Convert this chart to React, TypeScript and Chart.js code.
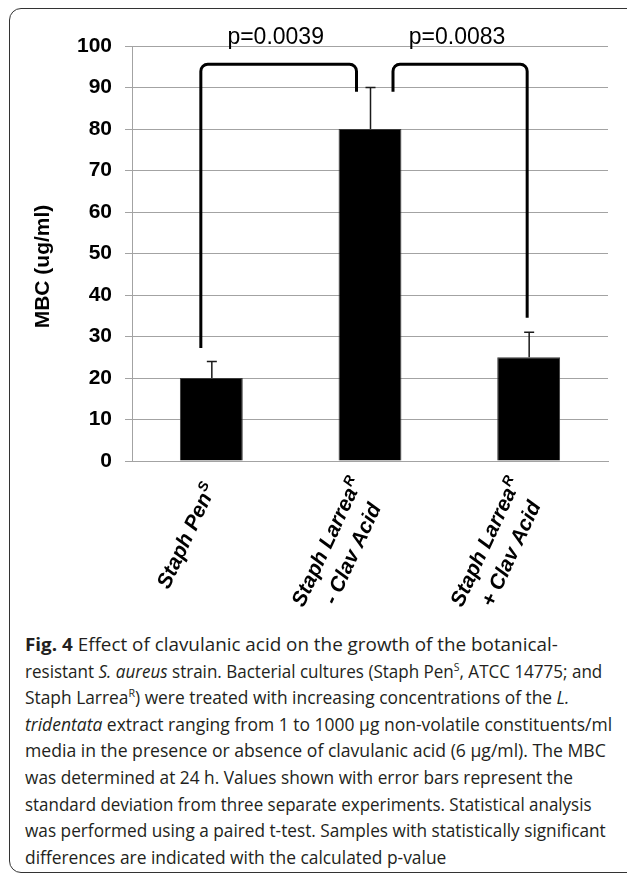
import React, { useEffect, useLayoutEffect, useRef } from "react";
import { Chart, registerables } from "chart.js";

Chart.register(...registerables);

// ---- data ----
const categories = ["Staph Pen^S", "Staph Larrea^R|- Clav Acid", "Staph Larrea^R|+ Clav Acid"];
const mbcValues = [20, 80, 25];
const sdValues = [4, 10, 6];
const yTickMin = 0;
const yTickMax = 100;
const yTickStep = 10;
const yAxisTitle = "MBC (ug/ml)";
const pLabels = ["p=0.0039", "p=0.0083"];
const bracketPairs = [
  [0, 1],
  [1, 2],
];
const bracketTopValues = [95.6, 95.6];
const bracketLegFromValues = [27.2, 89];
const bracketLegToValues = [89, 34.5];

// ---- style ----
const FONT = '"Liberation Sans", Arial, Helvetica, sans-serif';
const GRID = "#a3a3a3";
const CANVAS_W = 627;
const CANVAS_H = 620;
const bracketPxOffsets = [
  [-10.5, -13.5],
  [23, -1.5],
];
const CAPTION_LEFT = 25;
const captionLineRightEdges = [558, 602, 569, 612, 606, 573, 592, 606, 446];

function parseLine(s: string) {
  const idx = s.indexOf("^");
  if (idx < 0) return { main: s, sup: "" };
  return { main: s.slice(0, idx), sup: s.slice(idx + 1) };
}

const overlayPlugin = {
  id: "overlay",
  afterDatasetsDraw(chart: any) {
    const { ctx, chartArea } = chart;
    const x = chart.scales.x;
    const y = chart.scales.y;
    ctx.save();

    // error bars (plus direction)
    ctx.strokeStyle = "#1a1a1a";
    ctx.lineWidth = 1.5;
    mbcValues.forEach((v, i) => {
      const cx = x.getPixelForValue(i) + 0.5;
      const y0 = y.getPixelForValue(v);
      const y1 = y.getPixelForValue(v + sdValues[i]);
      ctx.beginPath();
      ctx.moveTo(cx, y0);
      ctx.lineTo(cx, y1);
      ctx.moveTo(cx - 5, y1);
      ctx.lineTo(cx + 5, y1);
      ctx.stroke();
    });

    // significance brackets
    ctx.strokeStyle = "#000";
    ctx.lineWidth = 3;
    ctx.lineCap = "butt";
    ctx.lineJoin = "round";
    bracketPairs.forEach((pair, i) => {
      const xl = x.getPixelForValue(pair[0]) + bracketPxOffsets[i][0];
      const xr = x.getPixelForValue(pair[1]) + bracketPxOffsets[i][1];
      const yt = y.getPixelForValue(bracketTopValues[i]);
      const yl = y.getPixelForValue(bracketLegFromValues[i]);
      const yr = y.getPixelForValue(bracketLegToValues[i]);
      const r = 7;
      ctx.beginPath();
      ctx.moveTo(xl, yl);
      ctx.lineTo(xl, yt + r);
      ctx.arcTo(xl, yt, xl + r, yt, r);
      ctx.lineTo(xr - r, yt);
      ctx.arcTo(xr, yt, xr, yt + r, r);
      ctx.lineTo(xr, yr);
      ctx.stroke();

      ctx.fillStyle = "#000";
      ctx.font = `23px ${FONT}`;
      ctx.textAlign = "center";
      ctx.textBaseline = "alphabetic";
      ctx.fillText(pLabels[i], (xl + xr) / 2 - 3, y.getPixelForValue(100.6));
    });

    // rotated category labels
    const angle = (-65 * Math.PI) / 180;
    const mainFont = `italic bold 21px ${FONT}`;
    const supFont = `italic bold 14px ${FONT}`;
    const lh = 28;
    ctx.fillStyle = "#000";
    categories.forEach((cat, i) => {
      const lines = cat.split("|").map(parseLine);
      const widths = lines.map((l) => {
        ctx.font = mainFont;
        const w1 = ctx.measureText(l.main).width;
        ctx.font = supFont;
        const w2 = l.sup ? ctx.measureText(l.sup).width + 1 : 0;
        return { w1, w2, w: w1 + w2 };
      });
      const maxW = Math.max(...widths.map((w) => w.w));
      const cx = x.getPixelForValue(i);
      const cy = chartArea.bottom + 24;
      ctx.save();
      ctx.translate(cx, cy);
      ctx.rotate(angle);
      ctx.textAlign = "left";
      ctx.textBaseline = "middle";
      lines.forEach((l, j) => {
        const oy = (j - (lines.length - 1) / 2) * lh;
        const sx = -maxW / 2 - widths[j].w / 2;
        ctx.font = mainFont;
        ctx.fillText(l.main, sx, oy);
        if (l.sup) {
          ctx.font = supFont;
          ctx.fillText(l.sup, sx + widths[j].w1 + 1, oy - 6);
        }
      });
      ctx.restore();
    });

    // y axis title
    ctx.save();
    ctx.translate(43, (chartArea.top + chartArea.bottom) / 2 + 13);
    ctx.rotate(-Math.PI / 2);
    ctx.font = `bold 21px ${FONT}`;
    ctx.textAlign = "center";
    ctx.textBaseline = "middle";
    ctx.fillStyle = "#000";
    ctx.fillText(yAxisTitle, 0, 0);
    ctx.restore();

    ctx.restore();
  },
};

function ChartCanvas() {
  const ref = useRef<HTMLCanvasElement | null>(null);
  useEffect(() => {
    if (!ref.current) return;
    const chart = new Chart(ref.current, {
      type: "bar",
      data: {
        labels: categories.map((c) => c.replace(/\^/g, "").split("|").join(" ")),
        datasets: [
          {
            data: mbcValues,
            backgroundColor: "#000",
            borderColor: "#3a3a3a",
            borderWidth: 1,
            barPercentage: 63 / 159,
            categoryPercentage: 1,
          },
        ],
      },
      options: {
        responsive: false,
        maintainAspectRatio: false,
        animation: false,
        layout: { padding: { left: 0, top: 46, right: 19, bottom: 0 } },
        plugins: {
          legend: { display: false },
          tooltip: { enabled: false },
          title: { display: false },
        },
        scales: {
          x: {
            ticks: { display: false },
            grid: { display: false },
            border: { display: true, color: GRID, width: 1 },
            afterFit: (s: any) => {
              s.height = CANVAS_H - 461;
            },
          },
          y: {
            min: yTickMin,
            max: yTickMax,
            ticks: {
              stepSize: yTickStep,
              color: "#000",
              padding: 13,
              font: { family: FONT, size: 21, weight: "bold" },
            },
            grid: { color: GRID, lineWidth: 1, tickLength: 7, drawTicks: true },
            border: { display: true, color: GRID, width: 1 },
            afterFit: (s: any) => {
              s.width = 132;
            },
          },
        },
      },
      plugins: [overlayPlugin],
    } as any);
    return () => chart.destroy();
  }, []);
  return (
    <canvas
      ref={ref}
      width={CANVAS_W}
      height={CANVAS_H}
      style={{ position: "absolute", left: 0, top: 0, width: CANVAS_W, height: CANVAS_H }}
    />
  );
}

const captionStyle: React.CSSProperties = {
  position: "absolute",
  left: CAPTION_LEFT,
  top: 631,
  fontFamily: '"Open Sans", "Noto Sans", sans-serif',
  fontSize: 18,
  lineHeight: "26.6px",
  color: "#231f20",
  whiteSpace: "nowrap",
};

const supStyle: React.CSSProperties = { fontSize: 11, lineHeight: 0 };

function Caption() {
  const refs = useRef<(HTMLSpanElement | null)[]>([]);
  useLayoutEffect(() => {
    refs.current.forEach((el, i) => {
      if (!el) return;
      const w = el.offsetWidth;
      const target = captionLineRightEdges[i] - CAPTION_LEFT;
      if (w > 0) {
        el.style.transformOrigin = "0 50%";
        el.style.transform = `scaleX(${target / w})`;
      }
    });
  }, []);
  const lines: React.ReactNode[] = [
    <>
      <b>Fig. 4</b> Effect of clavulanic acid on the growth of the botanical-
    </>,
    <>
      resistant <i>S. aureus</i> strain. Bacterial cultures (Staph Pen<sup style={supStyle}>S</sup>, ATCC 14775; and
    </>,
    <>
      Staph Larrea<sup style={supStyle}>R</sup>) were treated with increasing concentrations of the <i>L.</i>
    </>,
    <>
      <i>tridentata</i> extract ranging from 1 to 1000 µg non-volatile constituents/ml
    </>,
    <>media in the presence or absence of clavulanic acid (6 µg/ml). The MBC</>,
    <>was determined at 24 h. Values shown with error bars represent the</>,
    <>standard deviation from three separate experiments. Statistical analysis</>,
    <>was performed using a paired t-test. Samples with statistically significant</>,
    <>differences are indicated with the calculated p-value</>,
  ];
  return (
    <div style={captionStyle}>
      {lines.map((l, i) => (
        <div key={i}>
          <span
            ref={(el) => {
              refs.current[i] = el;
            }}
            style={{ display: "inline-block" }}
          >
            {l}
          </span>
        </div>
      ))}
    </div>
  );
}

export default function App() {
  return (
    <div style={{ position: "absolute", left: 0, top: 0, width: 627, height: 873, overflow: "hidden", background: "#fff" }}>
      <div
        style={{
          position: "absolute",
          left: 9,
          top: 8,
          width: 720,
          height: 863,
          border: "1.5px solid #333",
          borderRadius: 12,
        }}
      />
      <ChartCanvas />
      <Caption />
    </div>
  );
}
